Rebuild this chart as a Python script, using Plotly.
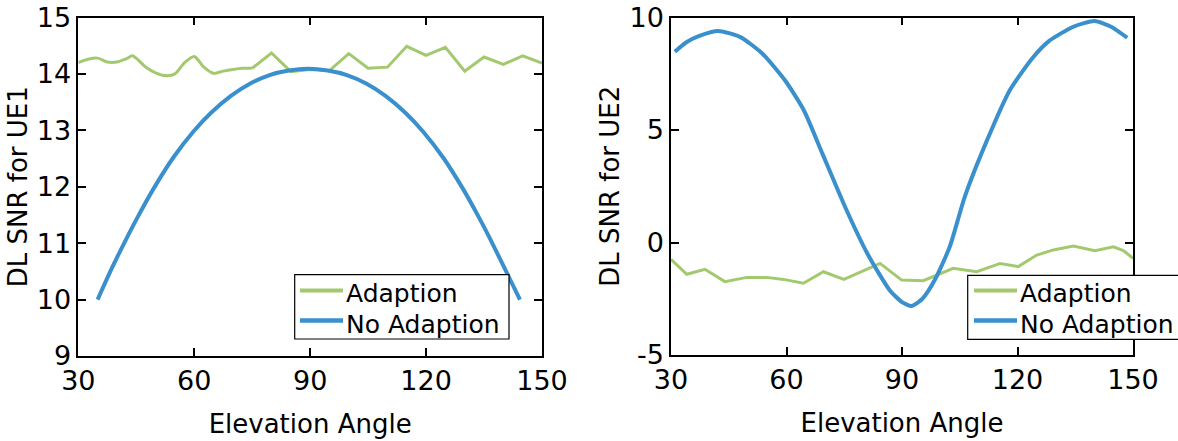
import plotly.graph_objects as go
from plotly.subplots import make_subplots

# ---------------- data ----------------
# Left panel: DL SNR for UE1
ue1_adapt_smooth_x = [30, 32.5, 35, 37.5, 40, 42.5, 44, 47.5, 50, 52.5, 55, 57.5, 60, 62.5, 65, 67.5, 70, 72.5, 75]
ue1_adapt_smooth_y = [14.20, 14.26, 14.28, 14.21, 14.21, 14.27, 14.32, 14.12, 14.02, 13.97, 14.00, 14.20, 14.31,
                      14.12, 14.01, 14.05, 14.08, 14.10, 14.10]
ue1_adapt_lin_x = [75, 80, 85, 90, 95, 100, 105, 110, 115, 120, 125, 130, 135, 140, 145, 150]
ue1_adapt_lin_y = [14.10, 14.37, 14.04, 14.08, 14.06, 14.36, 14.10, 14.12, 14.49, 14.33, 14.47, 14.05, 14.30,
                   14.17, 14.32, 14.19]

ue1_noadapt_x = [35, 38.5, 42.3, 45.5, 49.6, 54.5, 59.8, 64.5, 69.5, 74.5, 79.5, 84.5, 89.5, 94.5, 99.5, 104.5,
                 109.5, 114.5, 119.2, 124.5, 129.4, 133.5, 136.7, 140.5, 144.3]
ue1_noadapt_y = [10.00, 10.53, 11.06, 11.48, 11.98, 12.51, 12.98, 13.32, 13.61, 13.83, 13.98, 14.06, 14.09,
                 14.06, 13.98, 13.83, 13.61, 13.32, 12.98, 12.51, 11.98, 11.48, 11.06, 10.53, 10.00]

# Right panel: DL SNR for UE2
ue2_adapt_x = [30, 34.1, 38.8, 44.0, 49.7, 54.9, 59.2, 64.4, 69.6, 74.9, 84.3, 89.9, 95.5, 103.3, 109.4, 115.5,
               120.2, 122.4, 125, 129.3, 134.5, 140.1, 144.9, 147.5, 150]
ue2_adapt_y = [-0.75, -1.41, -1.19, -1.74, -1.55, -1.55, -1.64, -1.81, -1.30, -1.64, -0.93, -1.67, -1.70, -1.15,
               -1.30, -0.93, -1.07, -0.85, -0.56, -0.33, -0.16, -0.36, -0.19, -0.36, -0.70]

ue2_noadapt_x = [31.0, 34, 37.2, 42.2, 47.9, 53.7, 59.6, 64.5, 69.3, 75.2, 81.0, 86.8, 90, 92.5, 95.3, 98.5,
                 102.4, 106.3, 112.1, 118.0, 123.8, 128.0, 134.5, 140.0, 144.3, 148.5]
ue2_noadapt_y = [8.48, 8.90, 9.17, 9.40, 9.14, 8.40, 7.21, 5.88, 3.96, 1.59, -0.49, -2.12, -2.65, -2.82, -2.50,
                 -1.67, -0.19, 2.03, 4.55, 6.77, 8.18, 8.93, 9.59, 9.84, 9.59, 9.10]

x_ticks = [30, 60, 90, 120, 150]
y1_ticks = [9, 10, 11, 12, 13, 14, 15]
y2_ticks = [-5, 0, 5, 10]
y2_ticktext = ["-5", "0", "5", "10"]
legend_labels = ["Adaption", "No Adaption"]

GREEN = "#a3c96f"
BLUE = "#3a8fcd"
FONT = "DejaVu Sans"

W, H = 1178, 441
def fx(px):
    return px / W
def fy(py):
    return 1 - py / H

fig = make_subplots(rows=1, cols=2)

# Left panel
fig.add_trace(go.Scatter(x=ue1_adapt_smooth_x, y=ue1_adapt_smooth_y, mode="lines", name=legend_labels[0],
                         line=dict(color=GREEN, width=3, shape="spline", smoothing=0.8), showlegend=False),
              row=1, col=1)
fig.add_trace(go.Scatter(x=ue1_adapt_lin_x, y=ue1_adapt_lin_y, mode="lines", name=legend_labels[0],
                         line=dict(color=GREEN, width=3), showlegend=False), row=1, col=1)
fig.add_trace(go.Scatter(x=ue1_noadapt_x, y=ue1_noadapt_y, mode="lines", name=legend_labels[1],
                         line=dict(color=BLUE, width=4, shape="spline", smoothing=0.6), showlegend=False),
              row=1, col=1)

# Right panel
fig.add_trace(go.Scatter(x=ue2_adapt_x, y=ue2_adapt_y, mode="lines", name=legend_labels[0],
                         line=dict(color=GREEN, width=3), showlegend=False), row=1, col=2)
fig.add_trace(go.Scatter(x=ue2_noadapt_x, y=ue2_noadapt_y, mode="lines", name=legend_labels[1],
                         line=dict(color=BLUE, width=4, shape="spline", smoothing=0.6), showlegend=False),
              row=1, col=2)

axis_common = dict(showline=True, linecolor="black", linewidth=1.5, mirror="ticks", ticks="inside",
                   ticklen=8, tickwidth=1.5, tickcolor="black", showgrid=False, zeroline=False,
                   tickfont=dict(family=FONT, size=27, color="black"), automargin=False,
                   ticklabeloverflow="allow")

fig.update_xaxes(**axis_common, range=[30, 150], tickvals=x_ticks,
                 title=dict(text="Elevation Angle", font=dict(family=FONT, size=26, color="black"), standoff=20))
fig.update_xaxes(domain=[fx(78.3), fx(542)], row=1, col=1)
fig.update_xaxes(domain=[fx(671), fx(1133)], row=1, col=2)

fig.update_yaxes(**axis_common)
fig.update_yaxes(range=[9, 15], tickvals=y1_ticks, domain=[fy(356), fy(17.5)],
                 title=dict(text="DL SNR for UE1", font=dict(family=FONT, size=26, color="black"), standoff=2),
                 row=1, col=1)
fig.update_yaxes(range=[-5, 10], tickvals=y2_ticks, ticktext=y2_ticktext, domain=[fy(355), fy(17.5)],
                 title=dict(text="DL SNR for UE2", font=dict(family=FONT, size=26, color="black"), standoff=2),
                 row=1, col=2)

# Legends (boxed, lower right of each panel)
shapes = []
annotations = []
legend_boxes = [
    # box left, top, right, bottom, line x0, line x1, text x
    (294.7, 274.7, 509.0, 339.0, 300.0, 343.0, 343.5),
    (967.7, 275.3, 1185.0, 339.3, 974.0, 1017.0, 1017.5),
]
row_y = [(290.5, 293.0), (320.5, 324.0)]  # (line y, text middle y)
colors = [GREEN, BLUE]
widths = [4, 4.5]
for (bx0, by0, bx1, by1, lx0, lx1, tx) in legend_boxes:
    shapes.append(dict(type="rect", xref="paper", yref="paper", x0=fx(bx0), x1=fx(bx1), y0=fy(by1), y1=fy(by0),
                       line=dict(color="black", width=1.2), fillcolor="white", layer="above"))
    for (ly, ty), c, lw, lab in zip(row_y, colors, widths, legend_labels):
        shapes.append(dict(type="line", xref="paper", yref="paper", x0=fx(lx0), x1=fx(lx1), y0=fy(ly), y1=fy(ly),
                           line=dict(color=c, width=lw), layer="above"))
        annotations.append(dict(text=lab, xref="paper", yref="paper", x=fx(tx), y=fy(ty), xanchor="left",
                                yanchor="middle", showarrow=False,
                                font=dict(family=FONT, size=25, color="black")))

fig.update_layout(
    width=W, height=H, autosize=False,
    margin=dict(l=0, r=0, t=0, b=0),
    paper_bgcolor="white", plot_bgcolor="white",
    showlegend=False,
    shapes=shapes, annotations=annotations,
)

# remove the default 8px page margin so the figure sits at the window origin
fig.write_html("out.html", config={"displayModeBar": False},
               post_script="document.body.style.margin='0px';")
